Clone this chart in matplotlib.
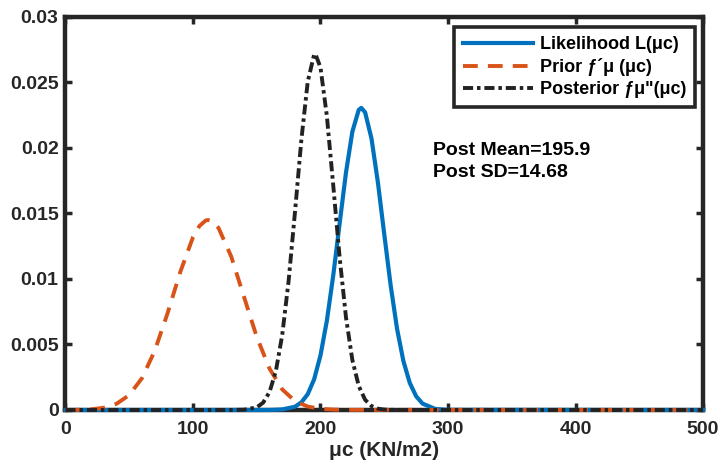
#!/usr/bin/env python3
"""Likelihood, prior and posterior densities for mu_c."""

import matplotlib

matplotlib.use("Agg")
import matplotlib.pyplot as plt

plt.rcParams["font.family"] = ["Liberation Sans", "DejaVu Sans"]
plt.rcParams["font.weight"] = "bold"

# values
lik_x = [0, 160, 170, 180, 185, 190, 195, 200, 205, 210, 215, 220, 225, 230, 232,
         235, 240, 245, 250, 255, 260, 265, 270, 275, 280, 290, 300, 500]
lik_y = [0, 0, 0.00004, 0.00025, 0.00058, 0.00121, 0.00234, 0.00417, 0.00682, 0.01027,
         0.01423, 0.01813, 0.02125, 0.02291, 0.02306, 0.02272, 0.02072, 0.01739,
         0.01342, 0.00953, 0.00622, 0.00374, 0.00207, 0.00105, 0.00049, 0.00008,
         0.00001, 0]

prior_x = [0, 10, 20, 30, 40, 50, 60, 70, 80, 90, 100, 105, 110, 112, 115, 120, 130,
           140, 150, 160, 170, 180, 190, 200, 210, 220, 500]
prior_y = [0, 0.00001, 0.00005, 0.00017, 0.00047, 0.00114, 0.00243, 0.00452, 0.00737,
           0.01053, 0.01319, 0.01404, 0.01447, 0.0145, 0.01442, 0.0139, 0.01171,
           0.00864, 0.00558, 0.00316, 0.00157, 0.00068, 0.00026, 0.00009, 0.00003,
           0.00001, 0]

post_x = [0, 130, 140, 150, 155, 160, 165, 170, 175, 180, 185, 190, 195, 196, 200,
          205, 210, 215, 220, 225, 230, 235, 240, 245, 250, 260, 500]
post_y = [0, 0, 0.00002, 0.0002, 0.00056, 0.00136, 0.00297, 0.00573, 0.00986, 0.01512,
          0.02063, 0.02507, 0.02713, 0.02718, 0.02614, 0.02243, 0.01714, 0.01166,
          0.00706, 0.00381, 0.00183, 0.00078, 0.0003, 0.0001, 0.00003, 0, 0]

x_ticks = [0, 100, 200, 300, 400, 500]
y_ticks = [0, 0.005, 0.01, 0.015, 0.02, 0.025, 0.03]
y_tick_labels = ["0", "0.005", "0.01", "0.015", "0.02", "0.025", "0.03"]

labels = ["Likelihood L(\u03bcc)", "Prior \u0192\u00b4\u03bc (\u03bcc)",
          "Posterior \u0192\u03bc\"(\u03bcc)"]
post_mean = 195.9
post_sd = 14.68

INK = "#262626"

fig = plt.figure(figsize=(7.22, 4.63), dpi=100)
ax = fig.add_axes([0.0907, 0.1145, 0.8830, 0.8488])

ax.plot(lik_x, lik_y, color="#0072BD", lw=3.0, label=labels[0], clip_on=False, zorder=3)
ax.plot(prior_x, prior_y, color="#D95319", lw=2.8, dashes=(3.8, 2.6),
        label=labels[1], clip_on=False, zorder=4)
ax.plot(post_x, post_y, color="#222222", lw=2.8, dashes=(2.6, 1.0, 0.9, 1.0),
        label=labels[2], clip_on=False, zorder=5)

ax.set_xlim(0, 500)
ax.set_ylim(0, 0.03)
ax.set_xticks(x_ticks)
ax.set_yticks(y_ticks)
ax.set_yticklabels(y_tick_labels)
ax.tick_params(direction="in", length=5, width=2.5, top=True, right=True,
               labelsize=14, colors=INK, pad=5)
ax.tick_params(axis="x", pad=8)
for s in ax.spines.values():
    s.set_linewidth(3.2)
    s.set_color(INK)
    s.set_zorder(2)

ax.set_xlabel("\u03bcc (KN/m2)", fontsize=15, fontweight="bold", color=INK, labelpad=2)

ax.text(288, 0.0198, f"Post Mean={post_mean}", fontsize=14, fontweight="bold",
        va="center", color="black")
ax.text(288, 0.0181, f"Post SD={post_sd}", fontsize=14, fontweight="bold",
        va="center", color="black")

leg = ax.legend(loc="upper right", bbox_to_anchor=(0.9875, 0.9746), borderaxespad=0,
                prop={"size": 13, "weight": "bold"}, handlelength=3.9,
                handletextpad=0.35, labelspacing=0.28, borderpad=0.5,
                fancybox=False, framealpha=1)
leg.get_frame().set_edgecolor(INK)
leg.get_frame().set_linewidth(2.6)
leg.set_zorder(10)

fig.savefig("out.png", dpi=100)
